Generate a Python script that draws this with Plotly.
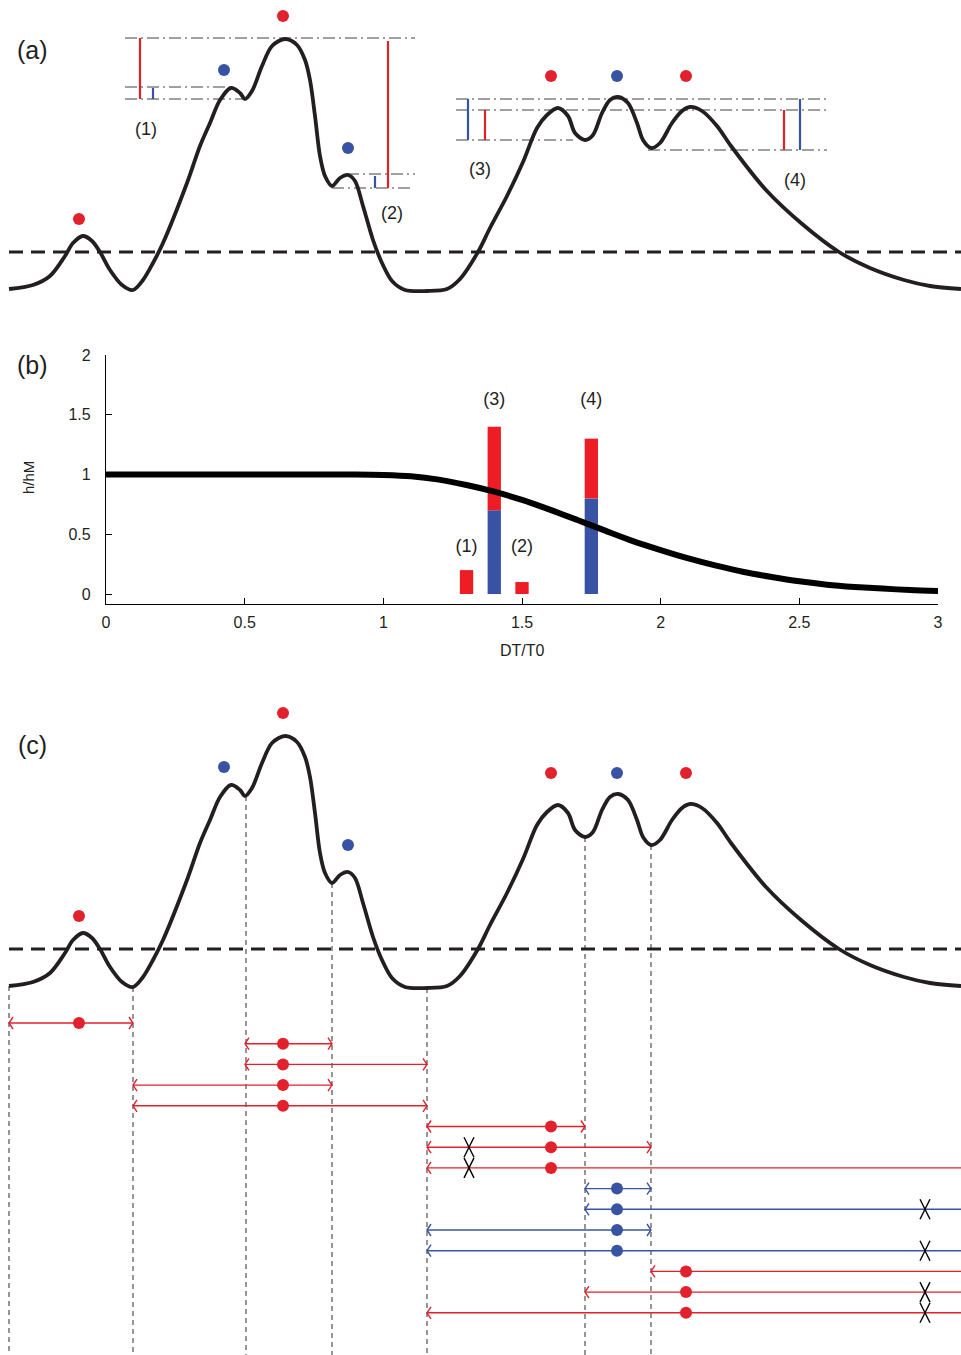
import plotly.graph_objects as go

W, H = 961, 1355
RED = "#E1212B"
BLUE = "#3953A4"
BLACK = "#231F20"
GREY = "#404040"
FONT = "Liberation Sans, Arial, sans-serif"

# Landscape profile shared by panels (a) and (c):
# x across the page, level measured upward from the dashed threshold line.
profile_x = [9, 33, 50, 65, 73, 83, 92, 100, 110, 122, 133, 143, 153, 163, 187,
             200, 210, 220, 231, 240, 245, 252, 262, 272, 285, 297, 305, 310, 315,
             320, 325, 332, 340, 348, 355, 363, 373, 382, 392, 405, 427, 447, 460,
             478, 490, 507, 523, 537, 547, 558, 568, 575, 585, 593, 602, 610, 618,
             628, 637, 643, 651, 660, 672, 682, 690, 702, 717, 731, 766, 801, 839,
             870, 904, 930, 961]
profile_level = [-37, -33, -24, -4, 9, 16, 11, 0, -18, -33, -38, -28, -11, 9, 69,
                 106, 129, 152, 164, 159, 153, 161, 186, 206, 213, 207, 192, 172, 136,
                 96, 76, 66, 74, 77, 71, 46, 12, -11, -29, -38, -39, -37, -27,
                 0, 24, 56, 90, 124, 137, 144, 136, 119, 112, 117, 139, 152, 155,
                 149, 129, 112, 104, 109, 129, 141, 145, 141, 126, 106, 62, 29, 0,
                 -16, -28, -34, -37]
threshold_x = [9, 961]

# Peaks marked with dots above the profile
peak_x = [79, 224, 283, 348, 551, 617, 686]
peak_level = [33, 182, 236, 104, 176, 176, 176]
peak_color = [RED, BLUE, RED, BLUE, RED, BLUE, RED]

# Panel (a): dash-dot reference levels (x0, x1, level)
ref_x0 = [125, 125, 125, 347, 332, 456, 456, 456, 648]
ref_x1 = [415, 230, 246, 415, 413, 827, 827, 573, 827]
ref_level = [214, 165, 153, 78, 64, 153, 142, 112, 102]

# Panel (a): height bars (x, low, high, colour)
hbar_x = [140, 153, 375, 388, 468, 485, 784, 800]
hbar_lo = [153, 153, 64, 64, 112, 112, 102, 102]
hbar_hi = [214, 164, 76, 211, 153, 142, 142, 153]
hbar_color = [RED, BLUE, BLUE, RED, BLUE, RED, RED, BLUE]

case_labels = ["(1)", "(2)", "(3)", "(4)"]
case_label_x = [146, 392, 480, 795]
case_label_level = [122, 38, 82, 71]

# Panel (b)
ratio_x = [0, 0.2, 0.4, 0.6, 0.8, 0.9, 1.0, 1.1, 1.2, 1.3, 1.4, 1.5, 1.6, 1.7,
           1.8, 1.9, 2.0, 2.1, 2.2, 2.3, 2.4, 2.5, 2.6, 2.7, 2.8, 2.9, 3.0]
ratio_h = [1, 1, 1, 1, 1, 1, 0.996, 0.985, 0.957, 0.912, 0.856, 0.787, 0.706,
           0.619, 0.53, 0.443, 0.368, 0.298, 0.237, 0.184, 0.142, 0.106, 0.078,
           0.059, 0.045, 0.033, 0.025]
case_dt = [1.30, 1.50, 1.40, 1.75]
case_blue = [0, 0, 0.70, 0.80]
case_total = [0.20, 0.10, 1.40, 1.30]
case_text_h = [0.39, 0.39, 1.62, 1.62]

# Panel (c): minima that bound the intervals
minima_x = [9, 133, 246, 332, 427, 585, 651]
minima_level = [-37, -38, 153, 66, -39, 112, 104]

# Panel (c): intervals, one row each (None = runs off the right edge)
row_left = [9, 245, 245, 133, 133, 427, 427, 427, 585, 585, 427, 427, 651, 585, 427]
row_right = [133, 332, 427, 332, 427, 585, 651, None, 651, None, 651, None, None, None, None]
row_dot = [79, 283, 283, 283, 283, 551, 551, 551, 617, 617, 617, 617, 686, 686, 686]
row_color = [RED] * 8 + [BLUE] * 4 + [RED] * 3
cross_row = [6, 7, 9, 11, 13, 14]
cross_x = [469, 469, 925, 925, 925, 925]

ROW0, ROW_STEP = -74, 20.7

fig = go.Figure()


def add_profile(xa, ya):
    fig.add_trace(go.Scatter(x=threshold_x, y=[0, 0], mode="lines",
                             line=dict(color=BLACK, width=3, dash="14px,8px"),
                             xaxis=xa, yaxis=ya))
    fig.add_trace(go.Scatter(x=profile_x, y=profile_level, mode="lines",
                             line=dict(color=BLACK, width=3.8, shape="spline", smoothing=0.9),
                             xaxis=xa, yaxis=ya))
    fig.add_trace(go.Scatter(x=peak_x, y=peak_level, mode="markers",
                             marker=dict(color=peak_color, size=12),
                             xaxis=xa, yaxis=ya))


# ---- (a)
for x0, x1, lv in zip(ref_x0, ref_x1, ref_level):
    fig.add_trace(go.Scatter(x=[x0, x1], y=[lv, lv], mode="lines",
                             line=dict(color=GREY, width=1, dash="12px,4px,2px,4px"),
                             xaxis="x", yaxis="y"))
for x, lo, hi, c in zip(hbar_x, hbar_lo, hbar_hi, hbar_color):
    fig.add_trace(go.Scatter(x=[x, x], y=[lo, hi], mode="lines",
                             line=dict(color=c, width=2.2), xaxis="x", yaxis="y"))
add_profile("x", "y")
fig.add_trace(go.Scatter(x=case_label_x, y=case_label_level, mode="text", text=case_labels,
                         textfont=dict(size=18, color=BLACK, family=FONT),
                         xaxis="x", yaxis="y"))

# ---- (b)
fig.add_trace(go.Bar(x=case_dt, y=case_blue, width=0.048, marker=dict(color=BLUE, line_width=0),
                     xaxis="x2", yaxis="y2"))
fig.add_trace(go.Bar(x=case_dt, y=[t - b for t, b in zip(case_total, case_blue)], base=case_blue,
                     width=0.048, marker=dict(color="#EE1D25", line_width=0),
                     xaxis="x2", yaxis="y2"))
fig.add_trace(go.Scatter(x=ratio_x, y=ratio_h, mode="lines",
                         line=dict(color="black", width=6, shape="spline", smoothing=0.8),
                         xaxis="x2", yaxis="y2"))
fig.add_trace(go.Scatter(x=case_dt, y=case_text_h, mode="text", text=case_labels,
                         textfont=dict(size=18, color=BLACK, family=FONT),
                         xaxis="x2", yaxis="y2"))

# ---- (c)
vx, vy = [], []
for x, lv in zip(minima_x, minima_level):
    vx += [x, x, None]
    vy += [lv, -420, None]
fig.add_trace(go.Scatter(x=vx, y=vy, mode="lines",
                         line=dict(color=GREY, width=1.1, dash="5px,4px"),
                         xaxis="x3", yaxis="y3"))
add_profile("x3", "y3")

for i, (l, r, d, c) in enumerate(zip(row_left, row_right, row_dot, row_color)):
    y = ROW0 - i * ROW_STEP
    xs = [l, W if r is None else r, None, l + 4, l, l + 4]
    ys = [y, y, None, y + 6, y, y - 6]
    if r is not None:
        xs += [None, r - 4, r, r - 4]
        ys += [None, y + 6, y, y - 6]
    fig.add_trace(go.Scatter(x=xs, y=ys, mode="lines", line=dict(color=c, width=1.4),
                             xaxis="x3", yaxis="y3"))
    fig.add_trace(go.Scatter(x=[d], y=[y], mode="markers", marker=dict(color=c, size=12),
                             xaxis="x3", yaxis="y3"))

cx, cy = [], []
for i, x in zip(cross_row, cross_x):
    y = ROW0 - i * ROW_STEP
    cx += [x - 5, x + 5, None, x - 5, x + 5, None]
    cy += [y + 10, y - 10, None, y - 10, y + 10, None]
fig.add_trace(go.Scatter(x=cx, y=cy, mode="lines", line=dict(color="black", width=1.4),
                         xaxis="x3", yaxis="y3"))

hidden = dict(visible=False, fixedrange=True, automargin=False)
tickfont = dict(size=16, color=BLACK, family=FONT)
axis_b = dict(showline=True, linecolor="black", linewidth=1.2, showgrid=False, zeroline=False,
              ticks="inside", ticklen=6, tickcolor="black", tickfont=tickfont,
              automargin=False, fixedrange=True)


def panel_label(text, x, y, size, angle=0):
    return dict(text=text, x=x / W, y=1 - y / H, xref="paper", yref="paper", showarrow=False,
                xanchor="center", yanchor="middle", textangle=angle,
                font=dict(size=size, color=BLACK, family=FONT))


fig.update_layout(
    template="none",
    width=W, height=H,
    margin=dict(l=0, r=0, t=0, b=0, pad=0, autoexpand=False),
    paper_bgcolor="white", plot_bgcolor="white",
    showlegend=False, barmode="overlay",
    font=dict(family=FONT, color=BLACK),
    xaxis=dict(domain=[0, 1], range=[0, W], **hidden),
    yaxis=dict(domain=[1 - 320 / H, 1], range=[-68, 252], **hidden),
    xaxis2=dict(domain=[106 / W, 938 / W], range=[0, 3], anchor="y2",
                tickvals=[0, 0.5, 1, 1.5, 2, 2.5, 3], ticktext=["0", "0.5", "1", "1.5", "2", "2.5", "3"],
                ticklabelstandoff=4, **axis_b),
    yaxis2=dict(domain=[(H - 604) / H, (H - 355) / H], range=[-10 / 119.5, 2], anchor="x2",
                tickvals=[0, 0.5, 1, 1.5, 2], ticktext=["0", "0.5", "1", "1.5", "2"],
                ticklabelstandoff=11, **axis_b),
    xaxis3=dict(domain=[0, 1], range=[0, W], anchor="y3", **hidden),
    yaxis3=dict(domain=[0, 665 / H], range=[-406, 259], anchor="x3", **hidden),
    annotations=[
        panel_label("(a)", 32, 50, 25),
        panel_label("(b)", 32, 365, 25),
        panel_label("(c)", 32, 745, 25),
        panel_label("h/hM", 28, 478, 15, -90),
        panel_label("DT/T0", 522, 651, 16),
    ],
)

fig.write_html("out.html", config={"displayModeBar": False},
               post_script="document.body.style.margin='0';")
